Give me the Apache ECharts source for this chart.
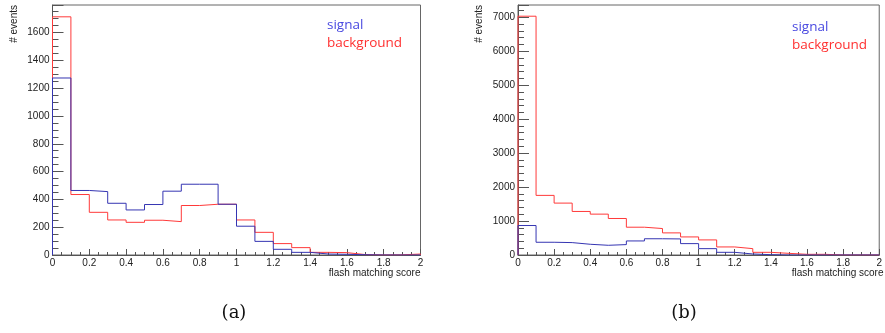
<!DOCTYPE html>
<html>
<head>
<meta charset="utf-8">
<script src="https://cdn.jsdelivr.net/npm/echarts@6/dist/echarts.min.js"></script>
<style>
  html, body { margin: 0; padding: 0; background: #ffffff; }
  #chart { width: 885px; height: 333px; }
</style>
</head>
<body>
<div id="chart"></div>
<script>
// Bin edges of the flash matching score histograms (20 bins of width 0.1)
const binEdges = [0, 0.1, 0.2, 0.3, 0.4, 0.5, 0.6, 0.7, 0.8, 0.9, 1.0,
                  1.1, 1.2, 1.3, 1.4, 1.5, 1.6, 1.7, 1.8, 1.9, 2.0];

// Panel (a): event counts per bin
const signalA     = [1273, 464, 456, 372, 324, 363, 459, 509, 509, 365,
                     207, 98, 41, 19, 7, 5, 2, 0, 0, 0];
const backgroundA = [1713, 435, 307, 252, 235, 250, 240, 356, 365, 365,
                     252, 163, 82, 53, 19, 17, 3, 0, 1, 7];

// Panel (b): event counts per bin
const signalB     = [868, 375, 365, 316, 286, 306, 414, 478, 473, 335,
                     187, 79, 30, 10, 0, 0, 0, 0, 0, 0];
const backgroundB = [7030, 1755, 1528, 1282, 1203, 1075, 818, 779, 651, 532,
                     444, 237, 187, 79, 49, 20, 20, 0, 0, 0];

// Axis settings
const xRange = [0, 2];
const xLabelStep = 0.2;
const yRangeA = [0, 1798];
const yLabelStepA = 200;
const yRangeB = [0, 7360];
const yLabelStepB = 1000;

const xTitle = 'flash matching score';
const yTitle = '# events';
const legendNames = ['signal', 'background'];
const captions = ['(a)', '(b)'];

const BLUE = '#3535b2';
const RED = '#ff3a3a';
const AXIS = '#555555';
const FONT = 'Liberation Sans, Arial, sans-serif';

// Turn per-bin counts into the outline of a histogram drawn as a stepped line
function histOutline(values) {
  const pts = [[binEdges[0], 0]];
  values.forEach((v, i) => pts.push([binEdges[i], v]));
  pts.push([binEdges[binEdges.length - 1], values[values.length - 1]]);
  pts.push([binEdges[binEdges.length - 1], 0]);
  return pts;
}

function xAxisFor(gridIndex) {
  return {
    type: 'value', gridIndex, min: xRange[0], max: xRange[1], interval: xLabelStep,
    axisLine: { show: true, onZero: false, lineStyle: { color: AXIS, width: 1 } },
    axisTick: { show: true, inside: true, length: 6, lineStyle: { color: AXIS } },
    minorTick: { show: true, splitNumber: 4, length: 3, lineStyle: { color: AXIS } },
    splitLine: { show: false },
    axisLabel: { margin: 3, fontSize: 10, fontFamily: FONT, color: '#222',
                 formatter: v => String(+v.toFixed(1)) }
  };
}

function yAxisFor(gridIndex, range, step, minorSplit) {
  return {
    type: 'value', gridIndex, min: range[0], max: range[1], interval: step,
    axisLine: { show: true, lineStyle: { color: AXIS, width: 1 } },
    axisTick: { show: true, inside: true, length: 11, lineStyle: { color: AXIS } },
    minorTick: { show: true, splitNumber: minorSplit, length: 6, lineStyle: { color: AXIS } },
    splitLine: { show: false },
    axisLabel: { margin: 3, fontSize: 10, fontFamily: FONT, color: '#222',
                 formatter: v => (Math.abs(v % step) < 1e-6 ? String(v) : '') }
  };
}

function histSeries(values, color, axisIndex, z) {
  return {
    type: 'line', step: 'end', data: histOutline(values),
    xAxisIndex: axisIndex, yAxisIndex: axisIndex,
    symbol: 'none', z,
    lineStyle: { color, width: 1 }
  };
}

const grids = [
  { left: 52.5, top: 5, width: 368, height: 250 },
  { left: 518, top: 5, width: 365.5, height: 250 }
];

function textEl(text, x, y, opts) {
  return Object.assign({
    type: 'text', x, y, silent: true,
    style: Object.assign({ text, fontFamily: FONT, fontSize: 10, fill: '#222' }, opts.style || {})
  }, opts.el || {});
}

const graphics = [];
grids.forEach((g, i) => {
  const right = g.left + g.width;
  // y-axis title, rotated, aligned to the top of the axis
  graphics.push(textEl(yTitle, g.left - 38.5, g.top, {
    el: { rotation: Math.PI / 2 },
    style: { align: 'right', verticalAlign: 'middle' }
  }));
  // x-axis title, right-aligned under the axis end
  graphics.push(textEl(xTitle, right, 273, {
    style: { align: 'right', verticalAlign: 'middle' }
  }));
  // legend entries
  const lx = i === 0 ? 327 : 792;
  const ly = i === 0 ? 25 : 27;
  graphics.push(textEl(legendNames[0], lx, ly, {
    style: { align: 'left', verticalAlign: 'middle', fontFamily: 'Open Sans, sans-serif',
             fontSize: 13.5, fill: '#4848e0' }
  }));
  graphics.push(textEl(legendNames[1], lx, ly + 18, {
    style: { align: 'left', verticalAlign: 'middle', fontFamily: 'Open Sans, sans-serif',
             fontSize: 13.5, fill: '#ff3030' }
  }));
  // sub-figure caption
  graphics.push(textEl(captions[i], i === 0 ? 234 : 684, 313, {
    style: { align: 'center', verticalAlign: 'middle',
             fontFamily: 'DejaVu Serif, Liberation Serif, serif', fontSize: 18, fill: '#111' }
  }));
});

const chart = echarts.init(document.getElementById('chart'), null, { renderer: 'canvas' });
chart.setOption({
  animation: false,
  backgroundColor: '#ffffff',
  grid: grids.map(g => Object.assign({ show: true, borderColor: '#666', borderWidth: 1,
                                        containLabel: false }, g)),
  xAxis: [xAxisFor(0), xAxisFor(1)],
  yAxis: [yAxisFor(0, yRangeA, yLabelStepA, 4), yAxisFor(1, yRangeB, yLabelStepB, 5)],
  series: [
    histSeries(backgroundA, RED, 0, 2),
    histSeries(signalA, BLUE, 0, 3),
    histSeries(backgroundB, RED, 1, 2),
    histSeries(signalB, BLUE, 1, 3)
  ],
  graphic: graphics
});
</script>
</body>
</html>
